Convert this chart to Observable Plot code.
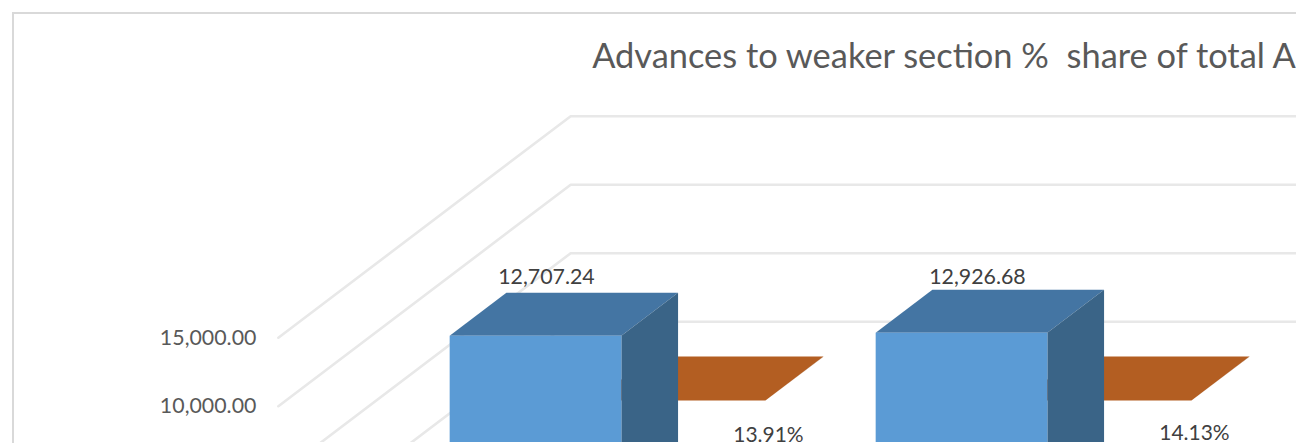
<!DOCTYPE html>
<html>
<head>
<meta charset="utf-8">
<script src="https://cdn.jsdelivr.net/npm/d3@7"></script>
<script src="https://cdn.jsdelivr.net/npm/@observablehq/plot@0.6"></script>
<style>
html,body{margin:0;padding:0;background:#fff;overflow:hidden}
#wrap{position:relative;width:1296px;height:443px;overflow:hidden}
#wrap::before{content:"";position:absolute;left:12px;top:12px;right:0;bottom:-10px;border:2px solid #d9d9d9;border-right:none;border-bottom:none}
#wrap svg{position:absolute;left:0;top:0;background:transparent!important}
</style>
</head>
<body>
<div id="wrap"></div>
<script>
const titleText = "Advances to weaker section %\u00a0\u00a0share of total A";
const categories = ["Year 1", "Year 2"];
const advances = [12707.24, 12926.68];
const shareLabels = ["13.91%", "14.13%"];
const shares = [13.91, 14.13];
const gridTicks = [15000, 10000, 5000, 0];
const axisLabels = [15000, 10000];

// 3-D projection: a point (slot, value, depth) is sheared into the plain x/y scales
const depthSlots = 293 / 427, depthValues = 222 / (206 / 15000);
const px = (slot, d) => slot + d * depthSlots;
const py = (value, d) => value + d * depthValues;
const half = 0.2015, floorLeft = -0.5, floorRight = 3;
const blueRow = [0.151, 0.345], orangeRow = [0.644, 0.842];

function poly(id, fill, corners) {
  return corners.map(([s, v, d]) => ({id, fill, x: px(s, d), y: py(v, d)}));
}
function box(i, value, [d0, d1], key, top, side, front) {
  const l = i - half, r = i + half;
  return [
    ...poly(key + "top", top, [[l, value, d0], [r, value, d0], [r, value, d1], [l, value, d1]]),
    ...poly(key + "side", side, [[r, 0, d0], [r, value, d0], [r, value, d1], [r, 0, d1]]),
    ...poly(key + "front", front, [[l, 0, d0], [r, 0, d0], [r, value, d0], [l, value, d0]])
  ];
}

const grid = gridTicks.flatMap(t => [
  {t, x: px(floorLeft, 0), y: py(t, 0)},
  {t, x: px(floorLeft, 1), y: py(t, 1)},
  {t, x: px(floorRight, 1), y: py(t, 1)}
]);
const orangeFaces = categories.flatMap((c, i) =>
  box(i, shares[i], orangeRow, "o" + i, "#b35e22", "#8f4a1a", "#ed7d31"));
const blueFaces = categories.flatMap((c, i) =>
  box(i, advances[i], blueRow, "b" + i, "#4475a3", "#3a6487", "#5b9bd5"));

const faceOpts = {x: "x", y: "y", z: "id", fill: "fill", stroke: null, curve: "linear-closed"};
const font = "Lato, 'Noto Sans', sans-serif";
const advDx = [11, 16], advDy = [-59, -56], shareDx = [89, 89], shareDy = [35, 33];

const chart = Plot.plot({
  width: 1299, height: 443, margin: 0,
  style: {fontFamily: font, background: "transparent"},
  x: {domain: [0, 1], range: [492, 919], axis: null},
  y: {domain: [0, 15000], range: [544, 338], axis: null},
  color: {type: "identity"},
  marks: [
    Plot.line(grid, {x: "x", y: "y", z: "t", stroke: "#e8e8e8", strokeWidth: 2.6}),
    Plot.line(orangeFaces, faceOpts),
    Plot.line(blueFaces, faceOpts),
    Plot.text(axisLabels, {
      x: px(floorLeft, 0), y: d => d, text: d => d3.format(",.2f")(d),
      textAnchor: "end", dx: -22, fontSize: 21.4, fill: "#595959"
    }),
    ...categories.flatMap((c, i) => [
      Plot.text([advances[i]], {
        x: px(i, blueRow[0]), y: d => py(d, blueRow[0]), text: d => d3.format(",.2f")(d),
        dx: advDx[i], dy: advDy[i], fontSize: 21.4, fill: "#404040"
      }),
      Plot.text([shares[i]], {
        x: px(i, orangeRow[0]), y: d => py(d, orangeRow[0]), text: () => shareLabels[i],
        dx: shareDx[i], dy: shareDy[i], fontSize: 21, fill: "#404040"
      })
    ]),
    Plot.text([titleText], {
      frameAnchor: "top-left", dx: 593, dy: 57, text: d => d, textAnchor: "start",
      lineAnchor: "middle", fontSize: 34.5, fill: "#595959"
    })
  ]
});
document.getElementById("wrap").appendChild(chart);
</script>
</body>
</html>
